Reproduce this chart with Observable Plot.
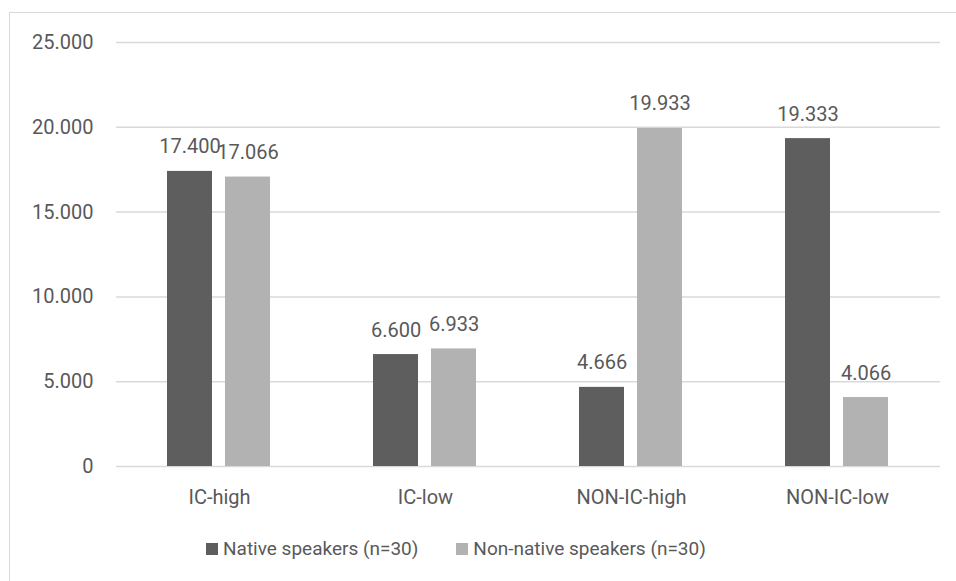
<!DOCTYPE html>
<html>
<head>
<meta charset="utf-8">
<script src="https://cdn.jsdelivr.net/npm/d3@7"></script>
<script src="https://cdn.jsdelivr.net/npm/@observablehq/plot@0.6"></script>
<style>
  html, body { margin: 0; padding: 0; background: #fff; overflow: hidden; }
  body { width: 956px; height: 581px; position: relative; font-family: Roboto, sans-serif; color: #595959; }
  #frame { position: absolute; left: 9px; top: 12px; width: 1000px; height: 640px;
           border-top: 1.5px solid #d9d9d9; border-left: 1.5px solid #d9d9d9; }
  #chart { position: absolute; left: 0; top: 0; }
  #legend { position: absolute; left: 206px; top: 537px; display: flex; align-items: center; font-size: 19px; color: #595959; }
  .item { display: flex; align-items: center; margin-right: 38px; }
  .sw { width: 12px; height: 12px; margin-right: 5px; }
</style>
</head>
<body>
<div id="frame"></div>
<div id="chart"></div>
<div id="legend"></div>
<script>
// Conditions on the horizontal axis
const categories = ["IC-high", "IC-low", "NON-IC-high", "NON-IC-low"];
// Speaker groups
const series = ["Native speakers (n=30)", "Non-native speakers (n=30)"];
// Mean scores per condition
const nativeValues = [17.400, 6.600, 4.666, 19.333];
const nonNativeValues = [17.066, 6.933, 19.933, 4.066];
// Value axis ticks
const yTicks = [0, 5, 10, 15, 20, 25];
const colors = ["#5e5e5e", "#b2b2b2"];

const data = categories.flatMap((c, i) => [
  {category: c, series: series[0], value: nativeValues[i]},
  {category: c, series: series[1], value: nonNativeValues[i]}
]);

const fmt = v => v === 0 ? "0" : v.toFixed(3);
const textColor = "#595959";
const fontSize = 20;

const chart = Plot.plot({
  width: 956,
  height: 520,
  marginLeft: 116,
  marginRight: 16,
  marginTop: 42,
  marginBottom: 54,
  style: {fontFamily: "Roboto, sans-serif", fontSize: fontSize + "px", color: textColor, background: "transparent"},
  fx: {domain: categories, padding: 0, axis: null, label: null},
  x: {domain: series, paddingInner: 0.22, paddingOuter: 0.856, axis: null, label: null},
  y: {domain: [0, 25], axis: null, label: null},
  color: {domain: series, range: colors},
  marks: [
    Plot.gridY(yTicks, {stroke: "#d9d9d9", strokeOpacity: 1, strokeWidth: 1.5}),
    Plot.axisY({ticks: yTicks, tickSize: 0, tickPadding: 23, tickFormat: fmt, fill: textColor, fontSize, label: null}),
    Plot.axisFx({anchor: "bottom", tickSize: 0, tickPadding: 23, fill: textColor, fontSize, label: null}),
    Plot.barY(data, {fx: "category", x: "series", y: "value", fill: "series"}),
    Plot.text(data, {fx: "category", x: "series", y: "value", text: d => fmt(d.value),
      lineAnchor: "bottom", dy: -18, fill: textColor, fontSize})
  ]
});
document.getElementById("chart").appendChild(chart);

// Legend below the plot
const legend = document.getElementById("legend");
series.forEach((s, i) => {
  const item = document.createElement("div");
  item.className = "item";
  const sw = document.createElement("div");
  sw.className = "sw";
  sw.style.background = colors[i];
  const label = document.createElement("span");
  label.textContent = s;
  item.appendChild(sw);
  item.appendChild(label);
  legend.appendChild(item);
});
</script>
</body>
</html>
